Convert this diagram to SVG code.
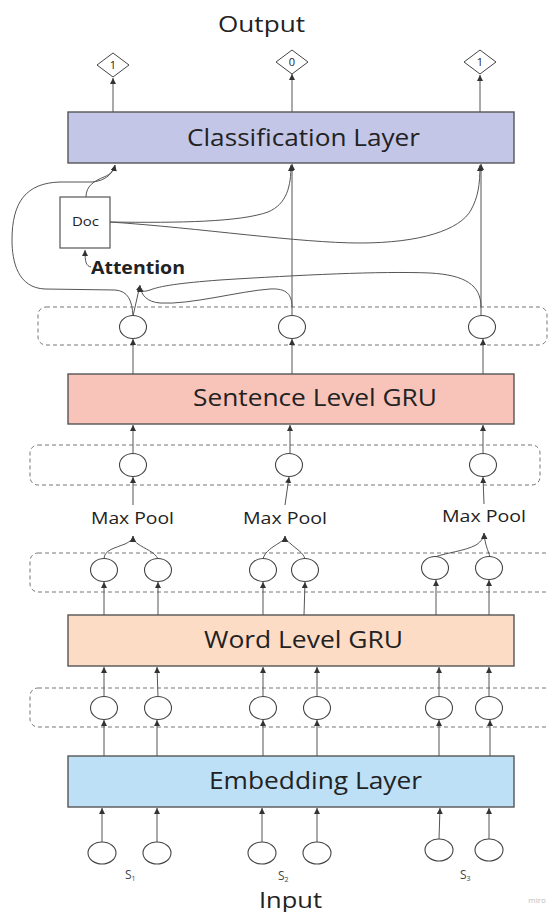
<svg xmlns="http://www.w3.org/2000/svg" width="548" height="912" viewBox="0 0 548 912">
  <defs>
    <marker id="arr" markerUnits="userSpaceOnUse" markerWidth="7" markerHeight="7" refX="6" refY="3" orient="auto">
      <path d="M0,0 L6,3 L0,6 z" fill="#333"/>
    </marker>
    <style>
      text { font-family: "Open Sans", "Noto Sans", "Liberation Sans", sans-serif; fill: #222; }
      .layer { stroke: #555; stroke-width: 1.4; }
      .cls { fill: #c4c6e8; }
      .sent { fill: #f8c4b9; }
      .word { fill: #fcdcc5; }
      .emb { fill: #bee0f7; }
      .band { fill: none; stroke: #777; stroke-width: 1; stroke-dasharray: 4 3; }
      .unit { fill: #fff; stroke: #444; stroke-width: 1.1; }
      .edge { fill: none; stroke: #555; stroke-width: 1; marker-end: url(#arr); }
      .big { font-size: 23px; }
      .pool { font-size: 17px; }
      .sub { font-size: 12px; fill: #444; }
    </style>
  </defs>
  <rect width="548" height="912" fill="#fff"/>

  <!-- titles -->
  <text x="218" y="32" font-size="21" textLength="87" lengthAdjust="spacingAndGlyphs">Output</text>
  <text x="259" y="907.5" font-size="21" textLength="63" lengthAdjust="spacingAndGlyphs">Input</text>
  <text x="537" y="903" font-size="8" text-anchor="middle" style="fill:#bbb">miro</text>

  <!-- dashed bands -->
  <rect class="band" x="38" y="307" width="509" height="38" rx="8"/>
  <rect class="band" x="30" y="445" width="510" height="40" rx="8"/>
  <rect class="band" x="30" y="553" width="540" height="39" rx="8"/>
  <rect class="band" x="30" y="688" width="540" height="39" rx="8"/>

  <!-- connectors -->
  <g id="connectors">
    <!-- classification to outputs -->
    <path class="edge" d="M113 112 V78"/>
    <path class="edge" d="M292 112 V74"/>
    <path class="edge" d="M480 112 V75"/>
    <!-- sentence states to classification -->
    <path class="edge" d="M292 316 V164"/>
    <path class="edge" d="M481 316 V164"/>
    <path class="edge" d="M133 316 C132 300 128 291 115 290 L45 289 C18 288 12 262 12 240 C12 202 26 183 60 182 L92 182 C106 181 113 173 115 165"/>
    <path class="edge" d="M86 197 C86 186 94 181 104 177 C111 174 114 170 115 165"/>
    <!-- doc vector to classification -->
    <path class="edge" d="M110 222 C180 223 240 222 268 212 C287 204 291 186 291 165"/>
    <path class="edge" d="M110 222 C200 228 300 243 360 243 C420 243 460 230 471 210 C478 197 480 185 480 165"/>
    <!-- attention -->
    <path class="edge" d="M91 267 C86 266 85 262 85 250"/>
    <path class="edge" d="M133 316 L140 285"/>
    <path class="edge" d="M292 307 C292 295 287 288 270 289 C240 291 190 305 160 303 C147 302 141 295 140 286"/>
    <path class="edge" d="M481 307 C481 285 465 275 430 273 C380 271 300 275 220 280 C180 283 160 286 150 290 C144 292 140 292 140 286"/>
    <!-- sentence GRU to sentence states -->
    <path class="edge" d="M133 374 V339"/>
    <path class="edge" d="M292 374 V339"/>
    <path class="edge" d="M483 374 V339"/>
    <!-- pooled vectors to sentence GRU -->
    <path class="edge" d="M133 454 V425"/>
    <path class="edge" d="M290 454 V425"/>
    <path class="edge" d="M483 454 V425"/>
    <!-- max pool to pooled vectors -->
    <path class="edge" d="M133 505 V477"/>
    <path class="edge" d="M285 505 L289 477"/>
    <path class="edge" d="M484 504 L483 477"/>
    <!-- word states to max pool -->
    <path class="edge" d="M104 559 C104 550 115 548 125 544 C131 541 133 539 133 536"/>
    <path class="edge" d="M158 559 C155 552 145 549 138 544 C134 541 133 539 133 536"/>
    <path class="edge" d="M263 559 C265 551 273 547 279 543 C284 540 285 538 285 536"/>
    <path class="edge" d="M305 559 C303 552 296 549 291 544 C287 541 285 539 285 536"/>
    <path class="edge" d="M435 557 C445 553 465 551 476 545 C482 541 484 537 484 533"/>
    <path class="edge" d="M490 557 C488 550 485 545 484 533"/>
    <!-- word GRU to word states -->
    <path class="edge" d="M104 615 V582"/>
    <path class="edge" d="M158 615 V582"/>
    <path class="edge" d="M263 615 V582"/>
    <path class="edge" d="M304 615 L305 582"/>
    <path class="edge" d="M436 615 V580"/>
    <path class="edge" d="M489 615 V580"/>
    <!-- embedded words to word GRU -->
    <path class="edge" d="M104 697 V667"/>
    <path class="edge" d="M158 697 L157 667"/>
    <path class="edge" d="M263 697 V667"/>
    <path class="edge" d="M317 697 V667"/>
    <path class="edge" d="M439 697 V667"/>
    <path class="edge" d="M489 697 V667"/>
    <!-- embedding to embedded words -->
    <path class="edge" d="M104 756 V720"/>
    <path class="edge" d="M157 756 V720"/>
    <path class="edge" d="M263 756 V720"/>
    <path class="edge" d="M317 756 V720"/>
    <path class="edge" d="M439 756 V720"/>
    <path class="edge" d="M490 756 V720"/>
    <!-- inputs to embedding -->
    <path class="edge" d="M102 842 V808"/>
    <path class="edge" d="M157 842 V808"/>
    <path class="edge" d="M262 842 V808"/>
    <path class="edge" d="M317 842 V808"/>
    <path class="edge" d="M439 839 L440 808"/>
    <path class="edge" d="M489 839 V808"/>
  </g>

  <!-- outputs -->
  <g id="out1">
    <polygon points="113,53 129,65 113,77 97,65" fill="#fff" stroke="#444" stroke-width="1"/>
    <text x="113" y="69" font-size="11" text-anchor="middle">1</text>
  </g>
  <g id="out2">
    <polygon points="292,50 308,62 292,74 276,62" fill="#fff" stroke="#444" stroke-width="1"/>
    <text x="292" y="66" font-size="11" text-anchor="middle">0</text>
  </g>
  <g id="out3">
    <polygon points="480,50 496,62 480,74 464,62" fill="#fff" stroke="#444" stroke-width="1"/>
    <text x="480" y="66" font-size="11" text-anchor="middle">1</text>
  </g>

  <!-- layers -->
  <g id="classification">
    <rect class="layer cls" x="68" y="112" width="446" height="51"/>
    <text class="big" x="187" y="146" font-size="22.5" textLength="233" lengthAdjust="spacingAndGlyphs">Classification Layer</text>
  </g>
  <g id="doc">
    <rect x="60" y="197" width="50" height="51" fill="#fff" stroke="#555" stroke-width="1.2"/>
    <text x="72" y="226" font-size="13" textLength="27" lengthAdjust="spacingAndGlyphs">Doc</text>
  </g>
  <g id="attention">
    <text x="91" y="274" font-size="18" font-weight="bold" textLength="94" lengthAdjust="spacingAndGlyphs">Attention</text>
  </g>
  <g id="sentence-gru">
    <rect class="layer sent" x="68" y="374" width="446" height="50"/>
    <text class="big" x="193" y="406" textLength="244" lengthAdjust="spacingAndGlyphs">Sentence Level GRU</text>
  </g>
  <g id="word-gru">
    <rect class="layer word" x="68" y="615" width="446" height="51"/>
    <text x="204" y="648" font-size="24" textLength="199" lengthAdjust="spacingAndGlyphs">Word Level GRU</text>
  </g>
  <g id="embedding">
    <rect class="layer emb" x="68" y="756" width="446" height="51"/>
    <text x="209" y="789" font-size="24" textLength="213" lengthAdjust="spacingAndGlyphs">Embedding Layer</text>
  </g>

  <!-- max pool labels -->
  <g id="pool1"><text class="pool" x="91" y="524" textLength="83" lengthAdjust="spacingAndGlyphs">Max Pool</text></g>
  <g id="pool2"><text class="pool" x="243" y="524" textLength="84" lengthAdjust="spacingAndGlyphs">Max Pool</text></g>
  <g id="pool3"><text class="pool" x="442" y="522" textLength="84" lengthAdjust="spacingAndGlyphs">Max Pool</text></g>

  <!-- sentence states -->
  <g id="h1"><ellipse class="unit" cx="133" cy="327" rx="13.5" ry="11.5"/></g>
  <g id="h2"><ellipse class="unit" cx="292" cy="327" rx="13.5" ry="11.5"/></g>
  <g id="h3"><ellipse class="unit" cx="482" cy="327" rx="13.5" ry="11.5"/></g>

  <!-- pooled vectors -->
  <g id="p1"><ellipse class="unit" cx="133" cy="465" rx="13.5" ry="11.5"/></g>
  <g id="p2"><ellipse class="unit" cx="289" cy="465" rx="13.5" ry="11.5"/></g>
  <g id="p3"><ellipse class="unit" cx="483" cy="465" rx="13.5" ry="11.5"/></g>

  <!-- word states -->
  <g id="w1"><ellipse class="unit" cx="104" cy="570" rx="13.5" ry="11.5"/></g>
  <g id="w2"><ellipse class="unit" cx="158" cy="570" rx="13.5" ry="11.5"/></g>
  <g id="w3"><ellipse class="unit" cx="263" cy="570" rx="13.5" ry="11.5"/></g>
  <g id="w4"><ellipse class="unit" cx="305" cy="570" rx="13.5" ry="11.5"/></g>
  <g id="w5"><ellipse class="unit" cx="435" cy="568" rx="13.5" ry="11.5"/></g>
  <g id="w6"><ellipse class="unit" cx="489" cy="568" rx="13.5" ry="11.5"/></g>

  <!-- embedded words -->
  <g id="e1"><ellipse class="unit" cx="104" cy="708" rx="13.5" ry="11.5"/></g>
  <g id="e2"><ellipse class="unit" cx="158" cy="708" rx="13.5" ry="11.5"/></g>
  <g id="e3"><ellipse class="unit" cx="263" cy="708" rx="13.5" ry="11.5"/></g>
  <g id="e4"><ellipse class="unit" cx="317" cy="708" rx="13.5" ry="11.5"/></g>
  <g id="e5"><ellipse class="unit" cx="439" cy="708" rx="13.5" ry="11.5"/></g>
  <g id="e6"><ellipse class="unit" cx="489" cy="708" rx="13.5" ry="11.5"/></g>

  <!-- input words -->
  <g id="x1"><ellipse class="unit" cx="102" cy="853" rx="14" ry="11"/></g>
  <g id="x2"><ellipse class="unit" cx="157" cy="853" rx="14" ry="11"/></g>
  <g id="x3"><ellipse class="unit" cx="262" cy="853" rx="14" ry="11"/></g>
  <g id="x4"><ellipse class="unit" cx="317" cy="853" rx="14" ry="11"/></g>
  <g id="x5"><ellipse class="unit" cx="439" cy="850" rx="14" ry="11"/></g>
  <g id="x6"><ellipse class="unit" cx="489" cy="850" rx="14" ry="11"/></g>

  <!-- sentence labels -->
  <g id="s1"><text class="sub" x="125" y="879">S<tspan font-size="7" dy="2">1</tspan></text></g>
  <g id="s2"><text class="sub" x="278" y="879.5">S<tspan font-size="7" dy="2">2</tspan></text></g>
  <g id="s3"><text class="sub" x="460" y="879">S<tspan font-size="7" dy="2">3</tspan></text></g>
</svg>
